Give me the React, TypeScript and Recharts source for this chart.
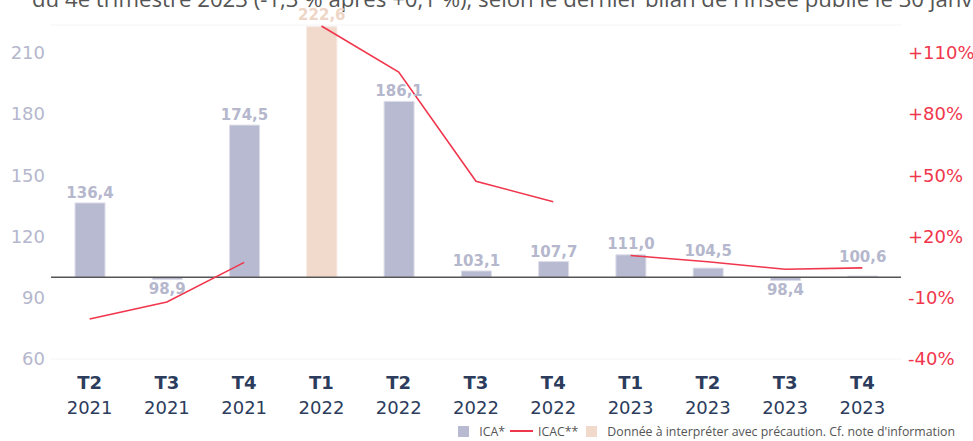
import React from 'react';
import {
  ComposedChart,
  Bar,
  Line,
  XAxis,
  YAxis,
  CartesianGrid,
  ReferenceLine,
  Legend,
  Cell,
  LabelList,
} from 'recharts';

const quarters = ['T2', 'T3', 'T4', 'T1', 'T2', 'T3', 'T4', 'T1', 'T2', 'T3', 'T4'];
const years = ['2021', '2021', '2021', '2022', '2022', '2022', '2022', '2023', '2023', '2023', '2023'];
const icaValues = [136.4, 98.9, 174.5, 222.6, 186.1, 103.1, 107.7, 111.0, 104.5, 98.4, 100.6];
const cautionFlags = [false, false, false, true, false, false, false, false, false, false, false];
const icac2021 = [-20.4, -12.1, 7.3, null, null, null, null, null, null, null, null];
const icac2022 = [null, null, null, 123.0, 100.5, 47.0, 37.0, null, null, null, null];
const icac2023 = [null, null, null, null, null, null, null, 10.7, 7.6, 3.9, 4.6];
const leftTicks = [60, 90, 120, 150, 180, 210];
const rightTicks = [-40, -10, 20, 50, 80, 110];
const baseline = 100;
const leftDomain = [60, 223.5];
const rightDomain = [-40, 123.5];

const titleText =
  "du 4e trimestre 2023 (-1,3 % après +0,1 %), selon le dernier bilan de l'Insee publié le 30 janvier 2024.";

const legendItems = [
  { label: 'ICA*', kind: 'square', color: '#b8bad2' },
  { label: 'ICAC**', kind: 'line', color: '#f0364c' },
  { label: "Donnée à interpréter avec précaution. Cf. note d'information", kind: 'square', color: '#f1d9cc' },
];

const data = quarters.map((q, i) => ({
  name: `${q} ${years[i]}`,
  quarter: q,
  year: years[i],
  icaValue: icaValues[i],
  ica: [Math.min(icaValues[i], baseline), Math.max(icaValues[i], baseline)],
  caution: cautionFlags[i],
  icac2021: icac2021[i],
  icac2022: icac2022[i],
  icac2023: icac2023[i],
}));

const CHART_W = 973;
const CHART_H = 441;
const MARGIN_TOP = 25;
const XAXIS_H = 62;
const LEGEND_H = 20;
const PLOT_H = CHART_H - MARGIN_TOP - XAXIS_H - LEGEND_H;
const PX_PER_UNIT = PLOT_H / (leftDomain[1] - leftDomain[0]);

const BAR_FILL = '#b8bad2';
const CAUTION_FILL = '#f1d9cc';
const LINE_COLOR = '#f0364c';
const FONT = '"DejaVu Sans", sans-serif';

const fmt = (v: number) => v.toFixed(1).replace('.', ',');

const lineValueAt = (i: number) => {
  const v = icac2021[i] ?? icac2022[i] ?? icac2023[i];
  return v == null ? null : v;
};

const BarLabel = (props: any) => {
  const { x, y, width, height, index } = props;
  const v = icaValues[index];
  const color = cautionFlags[index] ? '#efd5c6' : '#b5b7cd';
  const cx = x + width / 2;
  let ty: number;
  if (v >= baseline) {
    const barTop = y;
    const baseY = y + height;
    ty = barTop - 5;
    const r = lineValueAt(index);
    if (r != null) {
      const lineY = baseY - r * PX_PER_UNIT;
      const diff = barTop - lineY;
      if (diff >= -2 && diff <= 15) ty = Math.min(ty, lineY - 6);
    }
  } else {
    ty = y + height + 14;
  }
  return (
    <text x={cx} y={ty} textAnchor="middle" fontFamily={FONT} fontWeight="bold" fontSize={15} fill={color}>
      {fmt(v)}
    </text>
  );
};

const XTick = (props: any) => {
  const { x, y, payload } = props;
  const idx = payload.index;
  return (
    <g>
      <text x={x} y={y + 22} textAnchor="middle" fontFamily={FONT} fontWeight="bold" fontSize={18} fill="#2c3c5c">
        {quarters[idx]}
      </text>
      <text x={x} y={y + 47} textAnchor="middle" fontFamily={FONT} fontSize={18} fill="#2c3c5c">
        {years[idx]}
      </text>
    </g>
  );
};

const LegendContent = () => (
  <div
    style={{
      display: 'flex',
      justifyContent: 'flex-end',
      alignItems: 'center',
      paddingRight: 18,
      fontFamily: '"Open Sans", sans-serif',
      fontSize: 12.3,
      color: '#555',
      height: LEGEND_H,
    }}
  >
    {legendItems.map((it, i) => (
      <div key={i} style={{ display: 'flex', alignItems: 'center', marginLeft: i === 0 ? 0 : i === 1 ? 5 : 8 }}>
        {it.kind === 'square' ? (
          <span style={{ display: 'inline-block', width: 11, height: 11, background: it.color, marginRight: 10 }} />
        ) : (
          <span style={{ display: 'inline-block', width: 23, height: 2, background: it.color, marginRight: 5 }} />
        )}
        <span>{it.label}</span>
      </div>
    ))}
  </div>
);

export default function App() {
  return (
    <div
      style={{
        position: 'absolute',
        left: 0,
        top: 0,
        width: CHART_W,
        height: CHART_H,
        overflow: 'hidden',
        background: '#fff',
      }}
    >
      <div
        style={{
          position: 'absolute',
          left: 32,
          top: -13,
          whiteSpace: 'nowrap',
          fontFamily: '"Open Sans", sans-serif',
          fontSize: 22.2,
          color: '#555',
          lineHeight: '24px',
        }}
      >
        {titleText}
      </div>
      <ComposedChart
        width={CHART_W}
        height={CHART_H}
        data={data}
        margin={{ top: MARGIN_TOP, right: 0, bottom: 0, left: 0 }}
        barCategoryGap={0}
      >
        <CartesianGrid vertical={false} stroke="#f4f4f7" />
        <XAxis dataKey="name" height={XAXIS_H} axisLine={false} tickLine={false} tick={<XTick />} interval={0} />
        <YAxis
          yAxisId="left"
          width={51}
          domain={leftDomain}
          ticks={leftTicks}
          axisLine={false}
          tickLine={false}
          tickSize={4}
          tick={{ fontFamily: FONT, fontSize: 18, fill: '#b5b7cd' }}
          allowDataOverflow
        />
        <YAxis
          yAxisId="right"
          orientation="right"
          width={72}
          domain={rightDomain}
          ticks={rightTicks}
          axisLine={false}
          tickLine={false}
          tickSize={5}
          tickFormatter={(v: number) => (v > 0 ? `+${v}%` : `${v}%`)}
          tick={{ fontFamily: FONT, fontSize: 18, fill: LINE_COLOR, textAnchor: 'start' }}
          allowDataOverflow
        />
        <Legend verticalAlign="bottom" height={LEGEND_H} content={<LegendContent />} />
        <Bar yAxisId="left" dataKey="ica" barSize={30} isAnimationActive={false} stroke="#dcdde8" strokeWidth={1}>
          {data.map((d, i) => (
            <Cell key={i} fill={d.caution ? CAUTION_FILL : BAR_FILL} stroke={d.caution ? '#f5e6de' : '#dcdde8'} />
          ))}
          <LabelList dataKey="icaValue" content={<BarLabel />} />
        </Bar>
        <ReferenceLine yAxisId="left" y={baseline} stroke="#555" strokeWidth={1.5} />
        <Line yAxisId="right" dataKey="icac2021" stroke={LINE_COLOR} strokeWidth={1.6} dot={false} isAnimationActive={false} type="linear" />
        <Line yAxisId="right" dataKey="icac2022" stroke={LINE_COLOR} strokeWidth={1.6} dot={false} isAnimationActive={false} type="linear" />
        <Line yAxisId="right" dataKey="icac2023" stroke={LINE_COLOR} strokeWidth={1.6} dot={false} isAnimationActive={false} type="linear" />
      </ComposedChart>
    </div>
  );
}
